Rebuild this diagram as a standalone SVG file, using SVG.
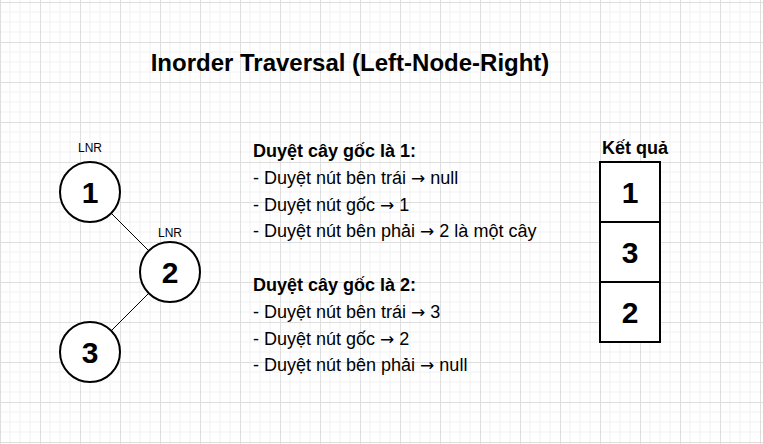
<svg xmlns="http://www.w3.org/2000/svg" width="763" height="444" viewBox="0 0 763 444">
  <defs>
    <pattern id="grid" x="0" y="2" width="40" height="40" patternUnits="userSpaceOnUse">
      <path d="M10 0V40M20 0V40M30 0V40M0 10H40M0 20H40M0 30H40" stroke="#f1f1f1" stroke-width="1" fill="none"/>
      <path d="M0.5 0V40M0 0.5H40" stroke="#dedede" stroke-width="1" fill="none"/>
    </pattern>
    <style>
      .t { font-family: "Liberation Sans", Arial, Helvetica, sans-serif; fill: #000; }
      .node { fill: #fff; stroke: #000; stroke-width: 2; }
      .num { font-family: "Liberation Sans", Arial, Helvetica, sans-serif; font-size: 30px; font-weight: bold; text-anchor: middle; fill: #000; }
      .lbl { font-family: "Liberation Sans", Arial, Helvetica, sans-serif; font-size: 12px; text-anchor: middle; fill: #000; }
      .edge { stroke: #000; stroke-width: 1; fill: none; }
      .body { font-family: "Liberation Sans", Arial, Helvetica, sans-serif; font-size: 18px; fill: #000; }
      .b { font-weight: bold; }
      .arr { font-family: "DejaVu Sans", sans-serif; font-size: 17px; }
    </style>
  </defs>
  <rect width="763" height="444" fill="#fff"/>
  <rect width="763" height="444" fill="url(#grid)"/>

  <text class="t" x="350" y="71" font-size="24" font-weight="bold" text-anchor="middle">Inorder Traversal (Left-Node-Right)</text>

  <g id="connectors">
    <line class="edge" x1="111.2" y1="213.2" x2="148.8" y2="250.8"/>
    <line class="edge" x1="148.8" y1="293.2" x2="111.2" y2="330.8"/>
  </g>

  <g id="node1">
    <text class="lbl" x="90" y="152">LNR</text>
    <circle class="node" cx="90" cy="192" r="30"/>
    <text class="num" x="90" y="203">1</text>
  </g>
  <g id="node2">
    <text class="lbl" x="170" y="237">LNR</text>
    <circle class="node" cx="170" cy="272" r="30"/>
    <text class="num" x="170" y="283">2</text>
  </g>
  <g id="node3">
    <circle class="node" cx="90" cy="352" r="30"/>
    <text class="num" x="90" y="363">3</text>
  </g>

  <g id="steps">
    <text class="body" x="253">
      <tspan class="b" x="253" y="157">Duyệt cây gốc là 1:</tspan>
      <tspan x="253" y="183.8">- Duyệt nút bên trái <tspan class="arr">→</tspan> null</tspan>
      <tspan x="253" y="210.6">- Duyệt nút gốc <tspan class="arr">→</tspan> 1</tspan>
      <tspan x="253" y="237.4">- Duyệt nút bên phải <tspan class="arr">→</tspan> 2 là một cây</tspan>
      <tspan class="b" x="253" y="291">Duyệt cây gốc là 2:</tspan>
      <tspan x="253" y="317.8">- Duyệt nút bên trái <tspan class="arr">→</tspan> 3</tspan>
      <tspan x="253" y="344.6">- Duyệt nút gốc <tspan class="arr">→</tspan> 2</tspan>
      <tspan x="253" y="371.4">- Duyệt nút bên phải <tspan class="arr">→</tspan> null</tspan>
    </text>
  </g>

  <g id="result">
    <text class="t b" x="635" y="154" font-size="18" text-anchor="middle">Kết quả</text>
    <g id="cell1">
      <rect class="node" x="600" y="162" width="60" height="60"/>
      <text class="num" x="630" y="203">1</text>
    </g>
    <g id="cell2">
      <rect class="node" x="600" y="222" width="60" height="60"/>
      <text class="num" x="630" y="263">3</text>
    </g>
    <g id="cell3">
      <rect class="node" x="600" y="282" width="60" height="60"/>
      <text class="num" x="630" y="323">2</text>
    </g>
  </g>
</svg>
